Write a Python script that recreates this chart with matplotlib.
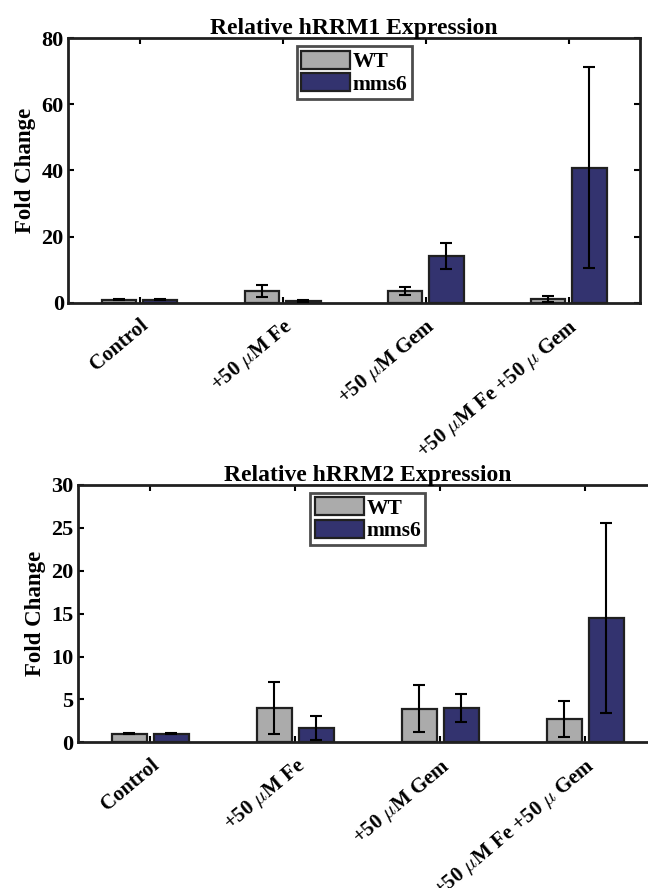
import matplotlib.pyplot as plt
import matplotlib.transforms as mtransforms
import numpy as np

plt.rcParams['font.family'] = ['Liberation Serif', 'DejaVu Serif']
plt.rcParams['font.weight'] = 'bold'
plt.rcParams['mathtext.fontset'] = 'cm'

conditions = ['Control', r'+50 $\mu$M Fe', r'+50 $\mu$M Gem', r'+50 $\mu$M Fe +50 $\mu$ Gem']

# hRRM1
rrm1_wt = [1.0, 3.6, 3.6, 1.1]
rrm1_wt_err = [0.1, 1.7, 1.3, 0.9]
rrm1_mms6 = [1.0, 0.6, 14.2, 40.8]
rrm1_mms6_err = [0.1, 0.3, 3.9, 30.4]

# hRRM2
rrm2_wt = [1.0, 4.0, 3.9, 2.75]
rrm2_wt_err = [0.05, 3.0, 2.75, 2.1]
rrm2_mms6 = [1.0, 1.65, 4.0, 14.5]
rrm2_mms6_err = [0.05, 1.4, 1.6, 11.1]

WT_COLOR = '#ababab'
MMS6_COLOR = '#33336f'


def draw(fig, ax, wt, wt_err, mms6, mms6_err, title, ymax, ystep):
    x = np.arange(1, len(conditions) + 1)
    w = 0.24
    off = 0.145
    ax.bar(x - off, wt, w, color=WT_COLOR, edgecolor='#202020', linewidth=1.6, label='WT', zorder=2)
    ax.bar(x + off, mms6, w, color=MMS6_COLOR, edgecolor='#202020', linewidth=1.6, label='mms6', zorder=2)
    ax.errorbar(x - off, wt, yerr=wt_err, fmt='none', ecolor='black', elinewidth=1.5,
                capsize=4, capthick=1.5, zorder=3)
    ax.errorbar(x + off, mms6, yerr=mms6_err, fmt='none', ecolor='black', elinewidth=1.5,
                capsize=4, capthick=1.5, zorder=3)
    ax.set_xlim(0.5, 4.5)
    ax.set_ylim(0, ymax)
    ax.set_yticks(np.arange(0, ymax + 1, ystep))
    ax.set_xticks(x)
    ax.set_xticklabels(conditions, rotation=40, ha='right', rotation_mode='anchor',
                       fontsize=15, fontweight='bold')
    shift = mtransforms.ScaledTranslation(0.09, 0.03, fig.dpi_scale_trans)
    for lab in ax.get_xticklabels():
        lab.set_transform(lab.get_transform() + shift)
    ax.tick_params(axis='y', labelsize=16, direction='in', length=4, width=1.5, right=True, pad=3)
    ax.tick_params(axis='x', direction='in', length=4, width=1.5, top=True, pad=9)
    for lab in ax.get_yticklabels():
        lab.set_fontweight('bold')
    for s in ax.spines.values():
        s.set_linewidth(2)
        s.set_color('#202020')
    ax.set_ylabel('Fold Change', fontsize=16.5, fontweight='bold', labelpad=4)
    ax.set_title(title, fontsize=17, fontweight='bold', pad=3)
    leg = ax.legend(loc='upper center', bbox_to_anchor=(0.5, 0.985), fontsize=15.5,
                    frameon=True, fancybox=False, edgecolor='#202020',
                    handlelength=2.3, handleheight=0.9, handletextpad=0.1,
                    borderpad=0.2, labelspacing=0.05, borderaxespad=0.2)
    leg.get_frame().set_linewidth(2)
    for t in leg.get_texts():
        t.set_fontweight('bold')


fig = plt.figure(figsize=(6.48, 8.88), dpi=100)
ax1 = fig.add_axes([0.105, 0.659, 0.883, 0.298])
ax2 = fig.add_axes([0.12, 0.164, 0.895, 0.290])

draw(fig, ax1, rrm1_wt, rrm1_wt_err, rrm1_mms6, rrm1_mms6_err, 'Relative hRRM1 Expression', 80, 20)
draw(fig, ax2, rrm2_wt, rrm2_wt_err, rrm2_mms6, rrm2_mms6_err, 'Relative hRRM2 Expression', 30, 5)

fig.savefig('out.png', dpi=100)
